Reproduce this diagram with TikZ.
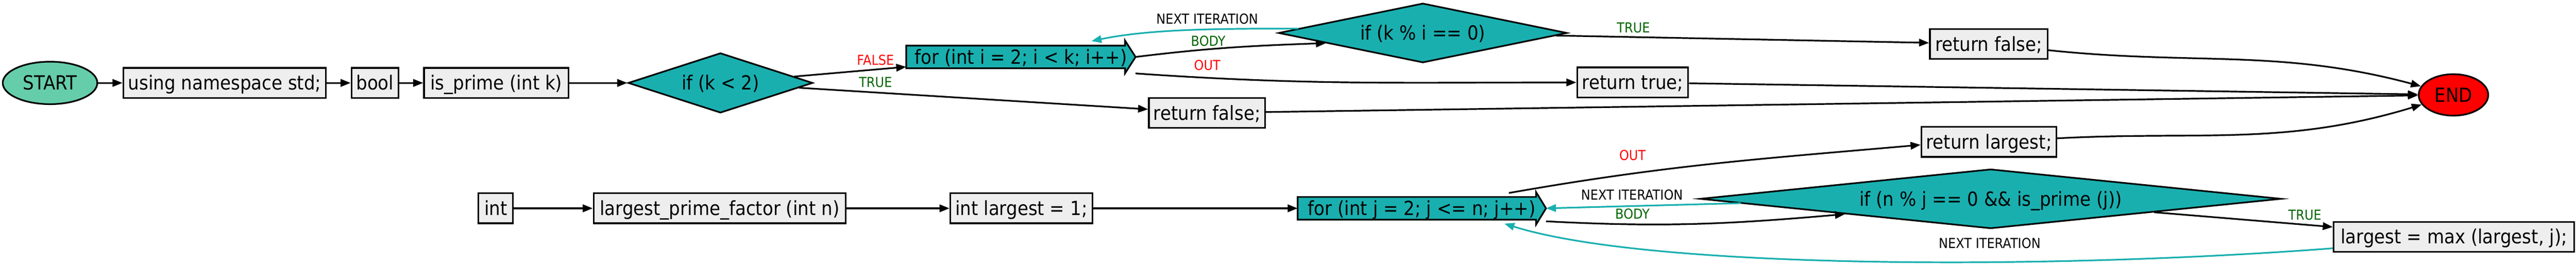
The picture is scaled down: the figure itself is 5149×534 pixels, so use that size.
\documentclass[tikz,border=0pt]{standalone}
\usepackage{fontspec}
\setmainfont{DejaVu Sans}[FakeStretch=0.9]
\usetikzlibrary{shapes.geometric,arrows.meta,calc}
\pgfdeclarelayer{bg}
\pgfsetlayers{bg,main}
\definecolor{tealf}{RGB}{26,175,175}
\definecolor{startf}{RGB}{102,205,170}
\definecolor{boxf}{RGB}{238,238,238}
\definecolor{lblgreen}{RGB}{0,100,0}
\definecolor{lblred}{RGB}{255,0,0}
\begin{document}
\begin{tikzpicture}[x=1pt,y=1pt,
  every node/.style={inner sep=0pt},
  main/.style={font=\fontsize{39pt}{39pt}\selectfont, text height=28pt, text depth=0pt},
  stmt/.style={main, rectangle, draw=black, line width=3.3pt, fill=boxf, minimum height=60pt},
  term/.style={main, ellipse, draw=black, line width=3.3pt},
  cond/.style={main, diamond, draw=black, line width=3.3pt, fill=tealf},
  loopbox/.style={main, rectangle, minimum height=45pt},
  loopshape/.style={draw=black, line width=3.3pt, fill=tealf},
  lbl/.style={font=\fontsize{27.5pt}{27.5pt}\selectfont, text height=20pt, text depth=0pt},
  edge/.style={line width=3.3pt, -{Triangle[length=20pt,width=15pt]}},
  back/.style={edge, draw=tealf}
]
\useasboundingbox (0,0) rectangle (5149,-534);

% first function
\node[term, fill=startf, minimum width=189pt, minimum height=85pt] (start) at (100,-166) {START};
\node[stmt, minimum width=405pt] (using) at (449,-166) {using namespace std;};
\node[stmt, minimum width=94pt] (bool) at (749.5,-166) {bool};
\node[stmt, minimum width=289pt] (isprime) at (992,-166) {is\_prime (int k)};
\node[cond, minimum width=369pt, minimum height=120pt, aspect=3.07] (ifk2) at (1440,-166) {if (k < 2)};
\node[loopbox, minimum width=458pt] (for1) at (2040.6,-114) {for (int i = 2; i < k; i++)};
\node[cond, minimum width=577pt, minimum height=119pt, aspect=4.85] (ifk0) at (2844,-66) {if (k \% i == 0)};
\node[stmt, minimum width=232pt] (rf1) at (2412.5,-226) {return false;};
\node[stmt, minimum width=222pt] (rt) at (3263.5,-165) {return true;};
\node[stmt, minimum width=235pt] (rf2) at (3975,-88) {return false;};
\node[term, fill=red, minimum width=139pt, minimum height=83pt] (end) at (4904,-190) {END};

% second function
\node[stmt, minimum width=69pt] (int) at (991,-417) {int};
\node[stmt, minimum width=504pt] (lpf) at (1438.5,-417) {largest\_prime\_factor (int n)};
\node[stmt, minimum width=284pt] (il1) at (2041.5,-417) {int largest = 1;};
\node[loopbox, minimum width=496pt] (for2) at (2842,-417) {for (int j = 2; j <= n; j++)};
\node[cond, minimum width=1162pt, minimum height=119pt, aspect=9.76] (ifnj) at (3979,-398) {if (n \% j == 0 \&\& is\_prime (j))};
\node[stmt, minimum width=270pt] (rl) at (3975.5,-284) {return largest;};
\node[stmt, minimum width=481pt] (lm) at (4905,-474) {largest = max (largest, j);};

% loop shapes
\begin{pgfonlayer}{bg}
\draw[loopshape] (for1.north west) -- ([xshift=-21pt]for1.north east) -- ([xshift=-21pt,yshift=10pt]for1.north east) -- (for1.east) -- ([xshift=-21pt,yshift=-10pt]for1.south east) -- ([xshift=-21pt]for1.south east) -- (for1.south west) -- cycle;
\draw[loopshape] (for2.north west) -- ([xshift=-20pt]for2.north east) -- ([xshift=-20pt,yshift=10pt]for2.north east) -- (for2.east) -- ([xshift=-20pt,yshift=-10pt]for2.south east) -- ([xshift=-20pt]for2.south east) -- (for2.south west) -- cycle;
\end{pgfonlayer}

% edges, first function
\draw[edge] (start) -- (using);
\draw[edge] (using) -- (bool);
\draw[edge] (bool) -- (isprime);
\draw[edge] (isprime) -- (ifk2);
\draw[edge] (ifk2) -- (for1);
\draw[edge] (ifk2) -- (rf1);
\draw[edge] (for1.east) to[out=7, in=182] (ifk0.186);
\draw[back] (ifk0.178) .. controls +(-150,0) and +(120,25) .. ([shift={(141pt,9pt)}]for1.north);
\draw[edge] ([yshift=-33pt]for1.east) to[out=-4, in=180] (rt);
\draw[edge] (ifk0) -- (rf2);
\draw[edge] (rf2) to[out=-6, in=165] (end);
\draw[edge] (rt) -- (end);
\draw[edge] (rf1) -- (end);
\draw[edge] (rl) to[out=3, in=197] (end);

% edges, second function
\draw[edge] (int) -- (lpf);
\draw[edge] (lpf) -- (il1);
\draw[edge] (il1) -- (for2);
\draw[edge] ([xshift=174pt,yshift=8pt]for2.north) to[out=10, in=185] ([yshift=-6pt]rl.west);
\draw[back] (ifnj.181) -- (for2.east);
\draw[edge] ([yshift=-26pt]for2.east) to[out=-3, in=185] (ifnj.186);
\draw[edge] (ifnj) -- (lm);
\draw[back] ([yshift=-23pt]lm.west) .. controls +(-560,-43) and +(293,-92) .. ([xshift=165pt,yshift=-8pt]for2.south);

% labels
\node[lbl, text=lblred] (lfalse1) at (1750,-120) {FALSE};
\node[lbl, text=lblgreen] (ltrue1) at (1750,-165) {TRUE};
\node[lbl] (lnext1) at (2413,-38) {NEXT ITERATION};
\node[lbl, text=lblgreen] (lbody1) at (2415,-82) {BODY};
\node[lbl, text=lblred] (lout1) at (2413,-131) {OUT};
\node[lbl, text=lblgreen] (ltrue2) at (3265,-55) {TRUE};
\node[lbl, text=lblred] (lout2) at (3263,-311) {OUT};
\node[lbl] (lnext2) at (3262,-390) {NEXT ITERATION};
\node[lbl, text=lblgreen] (lbody2) at (3263,-428) {BODY};
\node[lbl, text=lblgreen] (ltrue3) at (4607,-430) {TRUE};
\node[lbl] (lnext3) at (3977,-487) {NEXT ITERATION};
\end{tikzpicture}
\end{document}
